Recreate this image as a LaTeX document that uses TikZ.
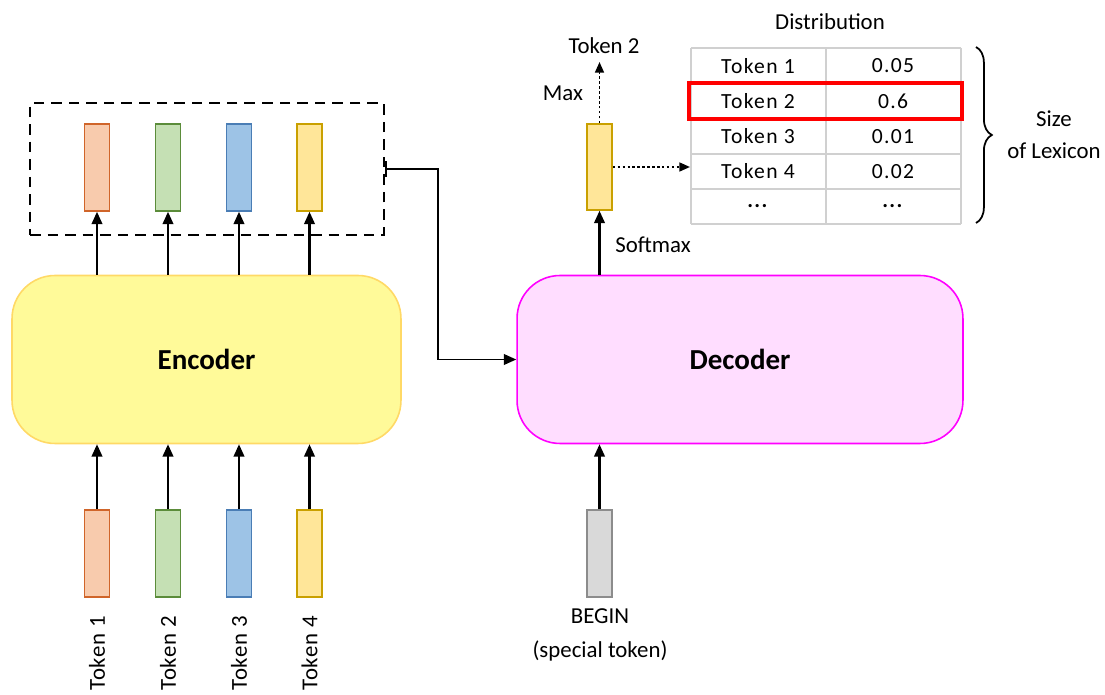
\documentclass[tikz,border=0pt]{standalone}
\usepackage{fontspec}
\setmainfont{Carlito}
\newfontfamily\spacedfont[LetterSpace=6]{Carlito}
\newfontfamily\lblfont[LetterSpace=3]{Carlito}
\usetikzlibrary{arrows.meta,decorations.pathreplacing}
\definecolor{orF}{HTML}{F8CBAD}\definecolor{orD}{HTML}{D0652A}
\definecolor{grF}{HTML}{C5E0B4}\definecolor{grD}{HTML}{5B8C3A}
\definecolor{blF}{HTML}{9DC3E6}\definecolor{blD}{HTML}{4A7DB5}
\definecolor{yeF}{HTML}{FFE699}\definecolor{yeD}{HTML}{C9A000}
\definecolor{gyF}{HTML}{D9D9D9}\definecolor{gyD}{HTML}{8C8C8C}
\definecolor{encF}{HTML}{FFFA99}\definecolor{encD}{HTML}{FFD966}
\definecolor{decF}{HTML}{FFDDFF}\definecolor{decD}{HTML}{FF00FF}
\definecolor{tblD}{HTML}{D0D0D0}
\begin{document}
\begin{tikzpicture}[x=0.02cm,y=-0.02cm,
  vec/.style={draw,line width=0.9pt,minimum width=0.5cm,minimum height=1.74cm,inner sep=0pt},
  block/.style={rounded corners=0.86cm,line width=0.9pt,minimum height=3.36cm,font=\fontsize{16.5}{20}\selectfont\bfseries},
  arr/.style={line width=1.2pt,-{Triangle[length=7pt,width=6pt]}},
  darr/.style={line width=1.1pt,dash pattern=on 1.4pt off 1.4pt,-{Triangle[length=6pt,width=5pt]}},
  lbl/.style={font=\fontsize{13}{16}\selectfont,inner sep=0pt},
  cell/.style={font=\spacedfont\fontsize{12.3}{15}\selectfont,inner sep=0pt},
  toklbl/.style={font=\lblfont\fontsize{13}{16}\selectfont,rotate=90,anchor=east,inner sep=0pt}]
\useasboundingbox (0,0) rectangle (1105,695);

% dashed box
\node[draw,dashed,line width=1.2pt,dash pattern=on 6pt off 4pt,minimum width=7.08cm,minimum height=2.64cm] (dbox) at (207,169) {};

% encoder output vectors
\node[vec,fill=orF,draw=orD] (o1) at (97,167.5) {};
\node[vec,fill=grF,draw=grD] (o2) at (168,167.5) {};
\node[vec,fill=blF,draw=blD] (o3) at (239,167.5) {};
\node[vec,fill=yeF,draw=yeD] (o4) at (309.5,167.5) {};

% encoder / decoder
\node[block,fill=encF,draw=encD,minimum width=7.78cm] (enc) at (206.5,359.5) {Encoder};
\node[block,fill=decF,draw=decD,minimum width=8.92cm] (dec) at (740,359.5) {Decoder};

% input vectors
\node[vec,fill=orF,draw=orD] (i1) at (97,553.5) {};
\node[vec,fill=grF,draw=grD] (i2) at (168,553.5) {};
\node[vec,fill=blF,draw=blD] (i3) at (239,553.5) {};
\node[vec,fill=yeF,draw=yeD] (i4) at (309.5,553.5) {};
\node[vec,fill=gyF,draw=gyD] (ib) at (599.5,553.5) {};

% token labels
\node[toklbl] (t1) at (97,616) {Token 1};
\node[toklbl] (t2) at (168,616) {Token 2};
\node[toklbl] (t3) at (239,616) {Token 3};
\node[toklbl] (t4) at (309.5,616) {Token 4};
\node[lbl,align=center] (beg) at (600,635) {BEGIN\\[3pt](special token)};

% arrows
\foreach \k in {1,2,3,4}{
  \draw[arr] (i\k.north) -- (i\k.north |- enc.south);
  \draw[arr] (o\k.south |- enc.north) -- (o\k.south);
}
\draw[arr] (ib.north) -- (ib.north |- dec.south);

% connector dashed box -> decoder
\draw[line width=1pt,{Bar[width=9pt,length=0pt]}-{Triangle[length=7pt,width=6pt]}] (dbox.east) -- ++(53,0) |- (dec.west);

% decoder output vector
\node[vec,fill=yeF,draw=yeD,minimum height=1.72cm] (ov) at (599.5,167) {};
\draw[arr] (ov.south |- dec.north) -- (ov.south);
\node[lbl,anchor=west] (smx) at (615,245) {Softmax};
\coordinate (top) at (599.5,62);
\draw[darr] (ov.north) -- (top);
\node[lbl] (tok2) at (604,46) {Token 2};
\node[lbl] (max) at (563,93) {Max};

% table
\foreach \y in {48,84,119,154,189,224}{\draw[tblD,line width=0.8pt] (691,\y) -- (961,\y);}
\foreach \x in {691,826,961}{\draw[tblD,line width=0.8pt] (\x,48) -- (\x,224);}
\node[cell] (c11) at (758,66) {Token 1};
\node[cell] (c12) at (893,66) {0.05};
\node[cell] (c21) at (758,101.5) {Token 2};
\node[cell] (c22) at (893,101.5) {0.6};
\node[cell] (c31) at (758,136.5) {Token 3};
\node[cell] (c32) at (893,136.5) {0.01};
\node[cell] (c41) at (758,171.5) {Token 4};
\node[cell] (c42) at (893,171.5) {0.02};
\node[cell] (c51) at (758,206.5) {\textbf{...}};
\node[cell] (c52) at (893,206.5) {\textbf{...}};
\node[draw=red,line width=1.8pt,minimum width=5.46cm,minimum height=0.72cm] (sel) at (825.5,101) {};
\coordinate (tin) at (690,167);
\draw[darr] (ov.east |- tin) -- (tin);
\node[lbl] (dist) at (830,22) {Distribution};

% brace
\draw[line width=1pt,decorate,decoration={brace,amplitude=9pt}] (976,47) -- (976,223);
\node[lbl,align=center] (size) at (1054,135) {Size\\[2pt]of Lexicon};
\end{tikzpicture}
\end{document}
